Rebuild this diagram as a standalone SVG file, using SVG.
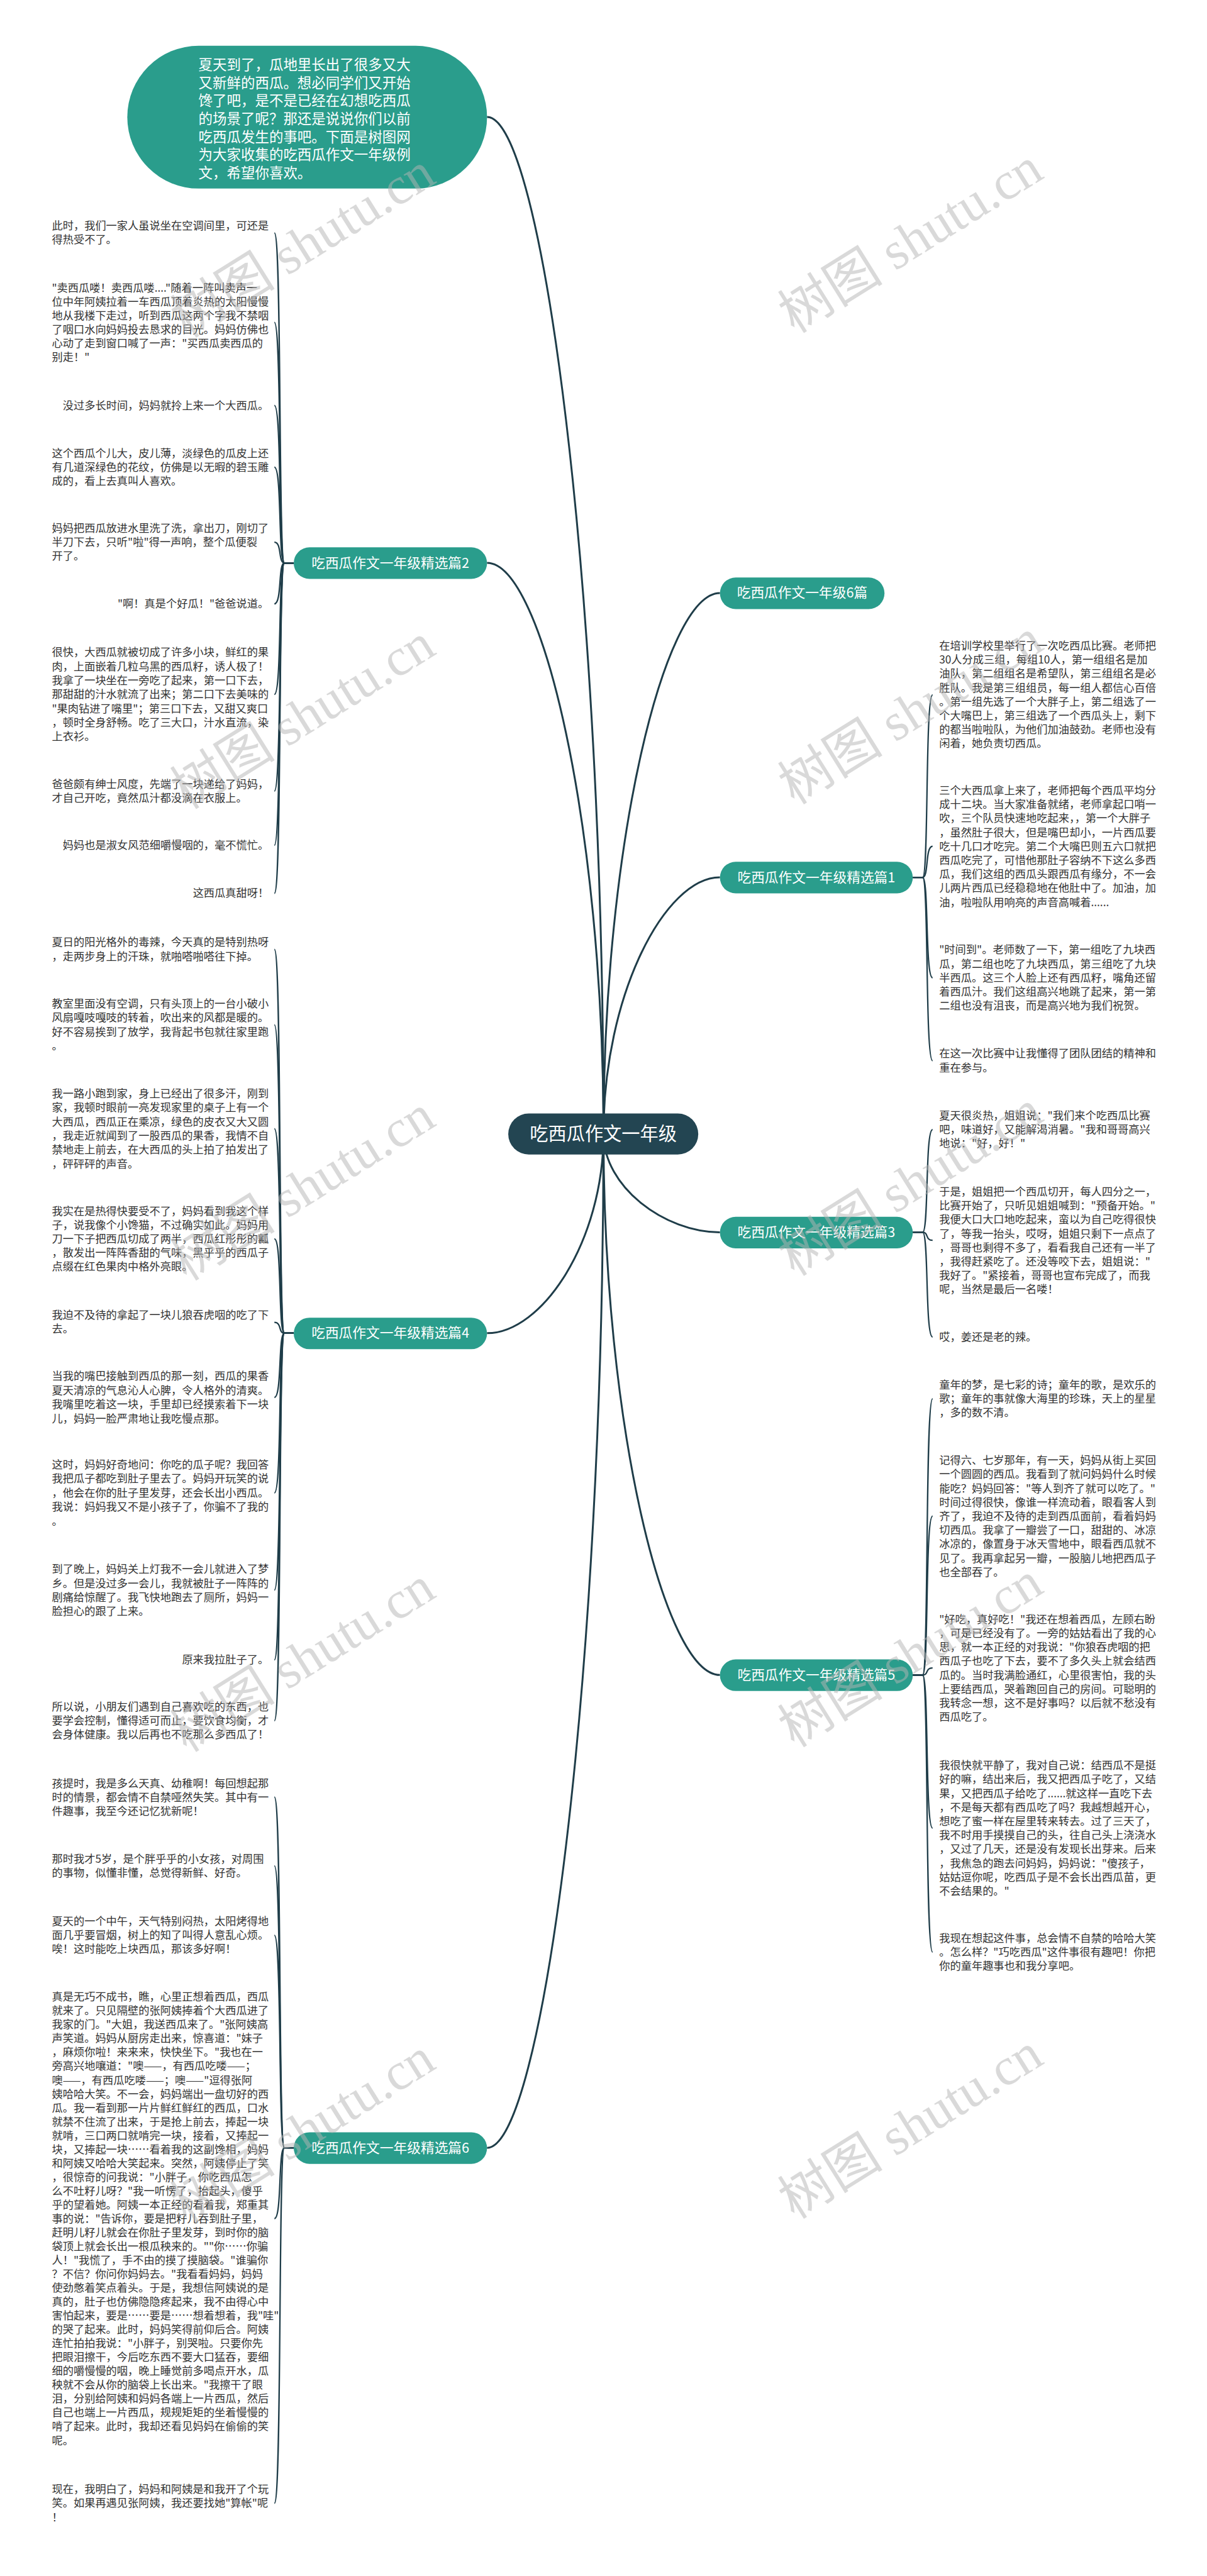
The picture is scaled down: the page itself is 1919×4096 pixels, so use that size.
<svg xmlns="http://www.w3.org/2000/svg" width="1919" height="4096" viewBox="0 0 1919 4096">
<style>
.t{font-family:"Noto Sans CJK SC","Noto Sans",sans-serif;font-size:23px;fill:#333}
.e{text-anchor:end}
.n{font-family:"Noto Sans CJK SC","Noto Sans",sans-serif;font-size:29px;fill:#fff;text-anchor:middle}
.b{font-family:"Noto Sans CJK SC","Noto Sans",sans-serif;font-size:30px;fill:#fff}
.m{fill:none;stroke:#1f3d49;stroke-width:4}
.c{fill:none;stroke:#1f3d49;stroke-width:3}
.nd{fill:#2a9d8c}
.wm{font-family:"Liberation Serif","Noto Sans CJK SC",serif;font-size:112px;fill:#b5b5b5;opacity:.5;text-anchor:middle}
</style>
<rect width="1919" height="4096" fill="#fff"/>
<g transform="scale(0.7496)">
<g id="connectors">
<path class="m" d="M1280,2405 C1280,1240 1150,248 1033,248"/>
<path class="m" d="M1280,2405 C1280,1751 1150,1194 1033,1194"/>
<path class="m" d="M1280,2405 C1280,1786 1410,1258 1527,1258"/>
<path class="m" d="M1280,2405 C1280,2111 1410,1861 1527,1861"/>
<path class="m" d="M1280,2405 C1280,2518 1410,2614 1527,2614"/>
<path class="m" d="M1280,2405 C1280,2633 1150,2828 1033,2828"/>
<path class="m" d="M1280,2405 C1280,3025 1410,3553 1527,3553"/>
<path class="m" d="M1280,2405 C1280,3567 1150,4556 1033,4556"/>
<path class="c" d="M623,1194 H603 C590,1194 598,494 582,494"/>
<path class="c" d="M623,1194 H603 C590,1194 598,684 582,684"/>
<path class="c" d="M623,1194 H603 C590,1194 598,860 582,860"/>
<path class="c" d="M623,1194 H603 C590,1194 598,991 582,991"/>
<path class="c" d="M623,1194 H603 C590,1194 598,1150 582,1150"/>
<path class="c" d="M623,1194 H603 C590,1194 598,1281 582,1281"/>
<path class="c" d="M623,1194 H603 C590,1194 598,1473 582,1473"/>
<path class="c" d="M623,1194 H603 C590,1194 598,1678 582,1678"/>
<path class="c" d="M623,1194 H603 C590,1194 598,1793 582,1793"/>
<path class="c" d="M623,1194 H603 C590,1194 598,1895 582,1895"/>
<path class="c" d="M623,2828 H603 C590,2828 598,2014 582,2014"/>
<path class="c" d="M623,2828 H603 C590,2828 598,2174 582,2174"/>
<path class="c" d="M623,2828 H603 C590,2828 598,2394 582,2394"/>
<path class="c" d="M623,2828 H603 C590,2828 598,2628 582,2628"/>
<path class="c" d="M623,2828 H603 C590,2828 598,2805 582,2805"/>
<path class="c" d="M623,2828 H603 C590,2828 598,2964 582,2964"/>
<path class="c" d="M623,2828 H603 C590,2828 598,3167 582,3167"/>
<path class="c" d="M623,2828 H603 C590,2828 598,3373 582,3373"/>
<path class="c" d="M623,2828 H603 C590,2828 598,3521 582,3521"/>
<path class="c" d="M623,2828 H603 C590,2828 598,3650 582,3650"/>
<path class="c" d="M623,4556 H603 C590,4556 598,3812 582,3812"/>
<path class="c" d="M623,4556 H603 C590,4556 598,3958 582,3958"/>
<path class="c" d="M623,4556 H603 C590,4556 598,4105 582,4105"/>
<path class="c" d="M623,4556 H603 C590,4556 598,4706 582,4706"/>
<path class="c" d="M623,4556 H603 C590,4556 598,5310 582,5310"/>
<path class="c" d="M1936,1861 H1957 C1970,1861 1962,1474 1978,1474"/>
<path class="c" d="M1936,1861 H1957 C1970,1861 1962,1795 1978,1795"/>
<path class="c" d="M1936,1861 H1957 C1970,1861 1962,2074 1978,2074"/>
<path class="c" d="M1936,1861 H1957 C1970,1861 1962,2250 1978,2250"/>
<path class="c" d="M1936,2614 H1957 C1970,2614 1962,2396 1978,2396"/>
<path class="c" d="M1936,2614 H1957 C1970,2614 1962,2631 1978,2631"/>
<path class="c" d="M1936,2614 H1957 C1970,2614 1962,2836 1978,2836"/>
<path class="c" d="M1936,3553 H1957 C1970,3553 1962,2967 1978,2967"/>
<path class="c" d="M1936,3553 H1957 C1970,3553 1962,3216 1978,3216"/>
<path class="c" d="M1936,3553 H1957 C1970,3553 1962,3538 1978,3538"/>
<path class="c" d="M1936,3553 H1957 C1970,3553 1962,3878 1978,3878"/>
<path class="c" d="M1936,3553 H1957 C1970,3553 1962,4141 1978,4141"/>
</g>

<g id="intro">
<rect class="nd" x="270" y="97" width="763" height="303" rx="151.5"/>
<text class="b" x="421" y="148"><tspan x="421" dy="0">夏天到了，瓜地里长出了很多又大</tspan><tspan x="421" dy="38.3">又新鲜的西瓜。想必同学们又开始</tspan><tspan x="421" dy="38.3">馋了吧，是不是已经在幻想吃西瓜</tspan><tspan x="421" dy="38.3">的场景了呢？那还是说说你们以前</tspan><tspan x="421" dy="38.3">吃西瓜发生的事吧。下面是树图网</tspan><tspan x="421" dy="38.3">为大家收集的吃西瓜作文一年级例</tspan><tspan x="421" dy="38.3">文，希望你喜欢。</tspan></text>
</g>

<g id="root">
<rect x="1078" y="2362" width="403" height="87" rx="43.5" fill="#234552"/>
<text x="1279.5" y="2419" font-family="Noto Sans CJK SC, sans-serif" font-size="39" fill="#fff" text-anchor="middle">吃西瓜作文一年级</text>
</g>

<g id="n6"><rect class="nd" x="1527" y="1225" width="349" height="67" rx="33.5"/><text class="n" x="1701.5" y="1268">吃西瓜作文一年级6篇</text></g>
<g id="p1"><rect class="nd" x="1527" y="1828" width="409" height="67" rx="33.5"/><text class="n" x="1731.5" y="1871">吃西瓜作文一年级精选篇1</text></g>
<g id="p3"><rect class="nd" x="1527" y="2581" width="409" height="67" rx="33.5"/><text class="n" x="1731.5" y="2624">吃西瓜作文一年级精选篇3</text></g>
<g id="p5"><rect class="nd" x="1527" y="3520" width="409" height="67" rx="33.5"/><text class="n" x="1731.5" y="3563">吃西瓜作文一年级精选篇5</text></g>
<g id="p2"><rect class="nd" x="623" y="1161" width="410" height="67" rx="33.5"/><text class="n" x="828" y="1204">吃西瓜作文一年级精选篇2</text></g>
<g id="p4"><rect class="nd" x="623" y="2795" width="410" height="67" rx="33.5"/><text class="n" x="828" y="2838">吃西瓜作文一年级精选篇4</text></g>
<g id="p6"><rect class="nd" x="623" y="4523" width="410" height="67" rx="33.5"/><text class="n" x="828" y="4566">吃西瓜作文一年级精选篇6</text></g>

<g id="p2-text">
<text class="t" x="110" y="487"><tspan x="110" dy="0">此时，我们一家人虽说坐在空调间里，可还是</tspan><tspan x="110" dy="29.5">得热受不了。</tspan></text>
<text class="t" x="110" y="619"><tspan x="110" dy="0">"卖西瓜喽！卖西瓜喽...."随着一阵叫卖声一</tspan><tspan x="110" dy="29.3">位中年阿姨拉着一车西瓜顶着炎热的太阳慢慢</tspan><tspan x="110" dy="29.3">地从我楼下走过，听到西瓜这两个字我不禁咽</tspan><tspan x="110" dy="29.3">了咽口水向妈妈投去恳求的目光。妈妈仿佛也</tspan><tspan x="110" dy="29.3">心动了走到窗口喊了一声："买西瓜卖西瓜的</tspan><tspan x="110" dy="29.3">别走！"</tspan></text>
<text class="t e" x="570" y="868">没过多长时间，妈妈就拎上来一个大西瓜。</text>
<text class="t" x="110" y="970"><tspan x="110" dy="0">这个西瓜个儿大，皮儿薄，淡绿色的瓜皮上还</tspan><tspan x="110" dy="29.5">有几道深绿色的花纹，仿佛是以无暇的碧玉雕</tspan><tspan x="110" dy="29.5">成的，看上去真叫人喜欢。</tspan></text>
<text class="t" x="110" y="1128"><tspan x="110" dy="0">妈妈把西瓜放进水里洗了洗，拿出刀，刚切了</tspan><tspan x="110" dy="29.5">半刀下去，只听"啦"得一声响，整个瓜便裂</tspan><tspan x="110" dy="29.5">开了。</tspan></text>
<text class="t e" x="570" y="1289">"啊！真是个好瓜！"爸爸说道。</text>
<text class="t" x="110" y="1392"><tspan x="110" dy="0">很快，大西瓜就被切成了许多小块，鲜红的果</tspan><tspan x="110" dy="29.8">肉，上面嵌着几粒乌黑的西瓜籽，诱人极了！</tspan><tspan x="110" dy="29.8">我拿了一块坐在一旁吃了起来，第一口下去，</tspan><tspan x="110" dy="29.8">那甜甜的汁水就流了出来；第二口下去美味的</tspan><tspan x="110" dy="29.8">"果肉钻进了嘴里"；第三口下去，又甜又爽口</tspan><tspan x="110" dy="29.8">，顿时全身舒畅。吃了三大口，汁水直流，染</tspan><tspan x="110" dy="29.8">上衣衫。</tspan></text>
<text class="t" x="110" y="1672"><tspan x="110" dy="0">爸爸颇有绅士风度，先端了一块递给了妈妈，</tspan><tspan x="110" dy="29">才自己开吃，竟然瓜汁都没滴在衣服上。</tspan></text>
<text class="t e" x="570" y="1801">妈妈也是淑女风范细嚼慢咽的，毫不慌忙。</text>
<text class="t e" x="570" y="1903">这西瓜真甜呀！</text>
</g>

<g id="p4-text">
<text class="t" x="110" y="2007"><tspan x="110" dy="0">夏日的阳光格外的毒辣，今天真的是特别热呀</tspan><tspan x="110" dy="30">，走两步身上的汗珠，就啪嗒啪嗒往下掉。</tspan></text>
<text class="t" x="110" y="2137"><tspan x="110" dy="0">教室里面没有空调，只有头顶上的一台小破小</tspan><tspan x="110" dy="30">风扇嘎吱嘎吱的转着，吹出来的风都是暖的。</tspan><tspan x="110" dy="30">好不容易挨到了放学，我背起书包就往家里跑</tspan><tspan x="110" dy="30">。</tspan></text>
<text class="t" x="110" y="2328"><tspan x="110" dy="0">我一路小跑到家，身上已经出了很多汗，刚到</tspan><tspan x="110" dy="29.8">家，我顿时眼前一亮发现家里的桌子上有一个</tspan><tspan x="110" dy="29.8">大西瓜，西瓜正在乘凉，绿色的皮衣又大又圆</tspan><tspan x="110" dy="29.8">，我走近就闻到了一股西瓜的果香，我情不自</tspan><tspan x="110" dy="29.8">禁地走上前去，在大西瓜的头上拍了拍发出了</tspan><tspan x="110" dy="29.8">，砰砰砰的声音。</tspan></text>
<text class="t" x="110" y="2577"><tspan x="110" dy="0">我实在是热得快要受不了，妈妈看到我这个样</tspan><tspan x="110" dy="29.5">子，说我像个小馋猫，不过确实如此。妈妈用</tspan><tspan x="110" dy="29.5">刀一下子把西瓜切成了两半，西瓜红彤彤的瓤</tspan><tspan x="110" dy="29.5">，散发出一阵阵香甜的气味，黑乎乎的西瓜子</tspan><tspan x="110" dy="29.5">点缀在红色果肉中格外亮眼。</tspan></text>
<text class="t" x="110" y="2798"><tspan x="110" dy="0">我迫不及待的拿起了一块儿狼吞虎咽的吃了下</tspan><tspan x="110" dy="29.5">去。</tspan></text>
<text class="t" x="110" y="2927"><tspan x="110" dy="0">当我的嘴巴接触到西瓜的那一刻，西瓜的果香</tspan><tspan x="110" dy="30">夏天清凉的气息沁人心脾，令人格外的清爽。</tspan><tspan x="110" dy="30">我嘴里吃着这一块，手里却已经摸索着下一块</tspan><tspan x="110" dy="30">儿，妈妈一脸严肃地让我吃慢点那。</tspan></text>
<text class="t" x="110" y="3115"><tspan x="110" dy="0">这时，妈妈好奇地问：你吃的瓜子呢？我回答</tspan><tspan x="110" dy="30">我把瓜子都吃到肚子里去了。妈妈开玩笑的说</tspan><tspan x="110" dy="30">，他会在你的肚子里发芽，还会长出小西瓜。</tspan><tspan x="110" dy="30">我说：妈妈我又不是小孩子了，你骗不了我的</tspan><tspan x="110" dy="30">。</tspan></text>
<text class="t" x="110" y="3337"><tspan x="110" dy="0">到了晚上，妈妈关上灯我不一会儿就进入了梦</tspan><tspan x="110" dy="29.7">乡。但是没过多一会儿，我就被肚子一阵阵的</tspan><tspan x="110" dy="29.7">剧痛给惊醒了。我飞快地跑去了厕所，妈妈一</tspan><tspan x="110" dy="29.7">脸担心的跟了上来。</tspan></text>
<text class="t e" x="570" y="3529">原来我拉肚子了。</text>
<text class="t" x="110" y="3629"><tspan x="110" dy="0">所以说，小朋友们遇到自己喜欢吃的东西，也</tspan><tspan x="110" dy="29.3">要学会控制，懂得适可而止，要饮食均衡，才</tspan><tspan x="110" dy="29.3">会身体健康。我以后再也不吃那么多西瓜了！</tspan></text>
</g>

<g id="p6-text">
<text class="t" x="110" y="3791"><tspan x="110" dy="0">孩提时，我是多么天真、幼稚啊！每回想起那</tspan><tspan x="110" dy="29.5">时的情景，都会情不自禁哑然失笑。其中有一</tspan><tspan x="110" dy="29.5">件趣事，我至今还记忆犹新呢！</tspan></text>
<text class="t" x="110" y="3951"><tspan x="110" dy="0">那时我才5岁，是个胖乎乎的小女孩，对周围</tspan><tspan x="110" dy="30">的事物，似懂非懂，总觉得新鲜、好奇。</tspan></text>
<text class="t" x="110" y="4083"><tspan x="110" dy="0">夏天的一个中午，天气特别闷热，太阳烤得地</tspan><tspan x="110" dy="29.5">面几乎要冒烟，树上的知了叫得人意乱心烦。</tspan><tspan x="110" dy="29.5">唉！这时能吃上块西瓜，那该多好啊！</tspan></text>
<text class="t" x="110" y="4244"><tspan x="110" dy="0">真是无巧不成书，瞧，心里正想着西瓜，西瓜</tspan><tspan x="110" dy="29.4">就来了。只见隔壁的张阿姨捧着个大西瓜进了</tspan><tspan x="110" dy="29.4">我家的门。"大姐，我送西瓜来了。"张阿姨高</tspan><tspan x="110" dy="29.4">声笑道。妈妈从厨房走出来，惊喜道："妹子</tspan><tspan x="110" dy="29.4">，麻烦你啦！来来来，快快坐下。"我也在一</tspan><tspan x="110" dy="29.4">旁高兴地嚷道："噢——，有西瓜吃喽——；</tspan><tspan x="110" dy="29.4">噢——，有西瓜吃喽——；噢——"逗得张阿</tspan><tspan x="110" dy="29.4">姨哈哈大笑。不一会，妈妈端出一盘切好的西</tspan><tspan x="110" dy="29.4">瓜。我一看到那一片片鲜红鲜红的西瓜，口水</tspan><tspan x="110" dy="29.4">就禁不住流了出来，于是抢上前去，捧起一块</tspan><tspan x="110" dy="29.4">就啃，三口两口就啃完一块，接着，又捧起一</tspan><tspan x="110" dy="29.4">块，又捧起一块……看着我的这副馋相，妈妈</tspan><tspan x="110" dy="29.4">和阿姨又哈哈大笑起来。突然，阿姨停止了笑</tspan><tspan x="110" dy="29.4">，很惊奇的问我说："小胖子，你吃西瓜怎</tspan><tspan x="110" dy="29.4">么不吐籽儿呀？"我一听愣了，抬起头，傻乎</tspan><tspan x="110" dy="29.4">乎的望着她。阿姨一本正经的看着我，郑重其</tspan><tspan x="110" dy="29.4">事的说："告诉你，要是把籽儿吞到肚子里，</tspan><tspan x="110" dy="29.4">赶明儿籽儿就会在你肚子里发芽，到时你的脑</tspan><tspan x="110" dy="29.4">袋顶上就会长出一根瓜秧来的。""你……你骗</tspan><tspan x="110" dy="29.4">人！"我慌了，手不由的摸了摸脑袋。"谁骗你</tspan><tspan x="110" dy="29.4">？不信？你问你妈妈去。"我看看妈妈，妈妈</tspan><tspan x="110" dy="29.4">使劲憋着笑点着头。于是，我想信阿姨说的是</tspan><tspan x="110" dy="29.4">真的，肚子也仿佛隐隐疼起来，我不由得心中</tspan><tspan x="110" dy="29.4">害怕起来，要是……要是……想着想着，我"哇"</tspan><tspan x="110" dy="29.4">的哭了起来。此时，妈妈笑得前仰后合。阿姨</tspan><tspan x="110" dy="29.4">连忙拍拍我说："小胖子，别哭啦。只要你先</tspan><tspan x="110" dy="29.4">把眼泪擦干，今后吃东西不要大口猛吞，要细</tspan><tspan x="110" dy="29.4">细的嚼慢慢的咽，晚上睡觉前多喝点开水，瓜</tspan><tspan x="110" dy="29.4">秧就不会从你的脑袋上长出来。"我擦干了眼</tspan><tspan x="110" dy="29.4">泪，分别给阿姨和妈妈各端上一片西瓜，然后</tspan><tspan x="110" dy="29.4">自己也端上一片西瓜，规规矩矩的坐着慢慢的</tspan><tspan x="110" dy="29.4">啃了起来。此时，我却还看见妈妈在偷偷的笑</tspan><tspan x="110" dy="29.4">呢。</tspan></text>
<text class="t" x="110" y="5288"><tspan x="110" dy="0">现在，我明白了，妈妈和阿姨是和我开了个玩</tspan><tspan x="110" dy="30">笑。如果再遇见张阿姨，我还要找她"算帐"呢</tspan><tspan x="110" dy="30">！</tspan></text>
</g>

<g id="p1-text">
<text class="t" x="1992" y="1378"><tspan x="1992" dy="0">在培训学校里举行了一次吃西瓜比赛。老师把</tspan><tspan x="1992" dy="29.6">30人分成三组，每组10人，第一组组名是加</tspan><tspan x="1992" dy="29.6">油队，第二组组名是希望队，第三组组名是必</tspan><tspan x="1992" dy="29.6">胜队。我是第三组组员，每一组人都信心百倍</tspan><tspan x="1992" dy="29.6">。第一组先选了一个大胖子上，第二组选了一</tspan><tspan x="1992" dy="29.6">个大嘴巴上，第三组选了一个西瓜头上，剩下</tspan><tspan x="1992" dy="29.6">的都当啦啦队，为他们加油鼓劲。老师也没有</tspan><tspan x="1992" dy="29.6">闲着，她负责切西瓜。</tspan></text>
<text class="t" x="1992" y="1685"><tspan x="1992" dy="0">三个大西瓜拿上来了，老师把每个西瓜平均分</tspan><tspan x="1992" dy="29.6">成十二块。当大家准备就绪，老师拿起口哨一</tspan><tspan x="1992" dy="29.6">吹，三个队员快速地吃起来，，第一个大胖子</tspan><tspan x="1992" dy="29.6">，虽然肚子很大，但是嘴巴却小，一片西瓜要</tspan><tspan x="1992" dy="29.6">吃十几口才吃完。第二个大嘴巴则五六口就把</tspan><tspan x="1992" dy="29.6">西瓜吃完了，可惜他那肚子容纳不下这么多西</tspan><tspan x="1992" dy="29.6">瓜，我们这组的西瓜头跟西瓜有缘分，不一会</tspan><tspan x="1992" dy="29.6">儿两片西瓜已经稳稳地在他肚中了。加油，加</tspan><tspan x="1992" dy="29.6">油，啦啦队用响亮的声音高喊着......</tspan></text>
<text class="t" x="1992" y="2023"><tspan x="1992" dy="0">"时间到"。老师数了一下，第一组吃了九块西</tspan><tspan x="1992" dy="29.6">瓜，第二组也吃了九块西瓜，第三组吃了九块</tspan><tspan x="1992" dy="29.6">半西瓜。这三个人脸上还有西瓜籽，嘴角还留</tspan><tspan x="1992" dy="29.6">着西瓜汁。我们这组高兴地跳了起来，第一第</tspan><tspan x="1992" dy="29.6">二组也没有沮丧，而是高兴地为我们祝贺。</tspan></text>
<text class="t" x="1992" y="2243"><tspan x="1992" dy="0">在这一次比赛中让我懂得了团队团结的精神和</tspan><tspan x="1992" dy="29.6">重在参与。</tspan></text>
</g>

<g id="p3-text">
<text class="t" x="1992" y="2374"><tspan x="1992" dy="0">夏天很炎热，姐姐说："我们来个吃西瓜比赛</tspan><tspan x="1992" dy="29.6">吧，味道好，又能解渴消暑。"我和哥哥高兴</tspan><tspan x="1992" dy="29.6">地说："好，好！"</tspan></text>
<text class="t" x="1992" y="2536"><tspan x="1992" dy="0">于是，姐姐把一个西瓜切开，每人四分之一，</tspan><tspan x="1992" dy="29.6">比赛开始了，只听见姐姐喊到："预备开始。"</tspan><tspan x="1992" dy="29.6">我便大口大口地吃起来，蛮以为自己吃得很快</tspan><tspan x="1992" dy="29.6">了，等我一抬头，哎呀，姐姐只剩下一点点了</tspan><tspan x="1992" dy="29.6">，哥哥也剩得不多了，看看我自己还有一半了</tspan><tspan x="1992" dy="29.6">，我得赶紧吃了。还没等咬下去，姐姐说："</tspan><tspan x="1992" dy="29.6">我好了。"紧接着，哥哥也宣布完成了，而我</tspan><tspan x="1992" dy="29.6">呢，当然是最后一名喽！</tspan></text>
<text class="t" x="1992" y="2844">哎，姜还是老的辣。</text>
</g>

<g id="p5-text">
<text class="t" x="1992" y="2945"><tspan x="1992" dy="0">童年的梦，是七彩的诗；童年的歌，是欢乐的</tspan><tspan x="1992" dy="29.6">歌；童年的事就像大海里的珍珠，天上的星星</tspan><tspan x="1992" dy="29.6">，多的数不清。</tspan></text>
<text class="t" x="1992" y="3106"><tspan x="1992" dy="0">记得六、七岁那年，有一天，妈妈从街上买回</tspan><tspan x="1992" dy="29.6">一个圆圆的西瓜。我看到了就问妈妈什么时候</tspan><tspan x="1992" dy="29.6">能吃？妈妈回答："等人到齐了就可以吃了。"</tspan><tspan x="1992" dy="29.6">时间过得很快，像谁一样流动着，眼看客人到</tspan><tspan x="1992" dy="29.6">齐了，我迫不及待的走到西瓜面前，看着妈妈</tspan><tspan x="1992" dy="29.6">切西瓜。我拿了一瓣尝了一口，甜甜的、冰凉</tspan><tspan x="1992" dy="29.6">冰凉的，像置身于冰天雪地中，眼看西瓜就不</tspan><tspan x="1992" dy="29.6">见了。我再拿起另一瓣，一股脑儿地把西瓜子</tspan><tspan x="1992" dy="29.6">也全部吞了。</tspan></text>
<text class="t" x="1992" y="3443"><tspan x="1992" dy="0">"好吃，真好吃！"我还在想着西瓜，左顾右盼</tspan><tspan x="1992" dy="29.6">，可是已经没有了。一旁的姑姑看出了我的心</tspan><tspan x="1992" dy="29.6">思，就一本正经的对我说："你狼吞虎咽的把</tspan><tspan x="1992" dy="29.6">西瓜子也吃了下去，要不了多久头上就会结西</tspan><tspan x="1992" dy="29.6">瓜的。当时我满脸通红，心里很害怕，我的头</tspan><tspan x="1992" dy="29.6">上要结西瓜，哭着跑回自己的房间。可聪明的</tspan><tspan x="1992" dy="29.6">我转念一想，这不是好事吗？以后就不愁没有</tspan><tspan x="1992" dy="29.6">西瓜吃了。</tspan></text>
<text class="t" x="1992" y="3753"><tspan x="1992" dy="0">我很快就平静了，我对自己说：结西瓜不是挺</tspan><tspan x="1992" dy="29.6">好的嘛，结出来后，我又把西瓜子吃了，又结</tspan><tspan x="1992" dy="29.6">果，又把西瓜子给吃了......就这样一直吃下去</tspan><tspan x="1992" dy="29.6">，不是每天都有西瓜吃了吗？我越想越开心，</tspan><tspan x="1992" dy="29.6">想吃了蜜一样在屋里转来转去。过了三天了，</tspan><tspan x="1992" dy="29.6">我不时用手摸摸自己的头，往自己头上浇浇水</tspan><tspan x="1992" dy="29.6">，又过了几天，还是没有发现长出芽来。后来</tspan><tspan x="1992" dy="29.6">，我焦急的跑去问妈妈，妈妈说："傻孩子，</tspan><tspan x="1992" dy="29.6">姑姑逗你呢，吃西瓜子是不会长出西瓜苗，更</tspan><tspan x="1992" dy="29.6">不会结果的。"</tspan></text>
<text class="t" x="1992" y="4119"><tspan x="1992" dy="0">我现在想起这件事，总会情不自禁的哈哈大笑</tspan><tspan x="1992" dy="29.6">。怎么样？"巧吃西瓜"这件事很有趣吧！你把</tspan><tspan x="1992" dy="29.6">你的童年趣事也和我分享吧。</tspan></text>
</g>

<g id="watermarks">
<text class="wm" transform="translate(642,520) rotate(-32)" y="38">树图 shutu.cn</text>
<text class="wm" transform="translate(1931,510) rotate(-32)" y="38">树图 shutu.cn</text>
<text class="wm" transform="translate(642,1520) rotate(-32)" y="38">树图 shutu.cn</text>
<text class="wm" transform="translate(1931,1510) rotate(-32)" y="38">树图 shutu.cn</text>
<text class="wm" transform="translate(642,2520) rotate(-32)" y="38">树图 shutu.cn</text>
<text class="wm" transform="translate(1931,2510) rotate(-32)" y="38">树图 shutu.cn</text>
<text class="wm" transform="translate(642,3520) rotate(-32)" y="38">树图 shutu.cn</text>
<text class="wm" transform="translate(1931,3510) rotate(-32)" y="38">树图 shutu.cn</text>
<text class="wm" transform="translate(642,4520) rotate(-32)" y="38">树图 shutu.cn</text>
<text class="wm" transform="translate(1931,4510) rotate(-32)" y="38">树图 shutu.cn</text>
</g>
</g>
</svg>
